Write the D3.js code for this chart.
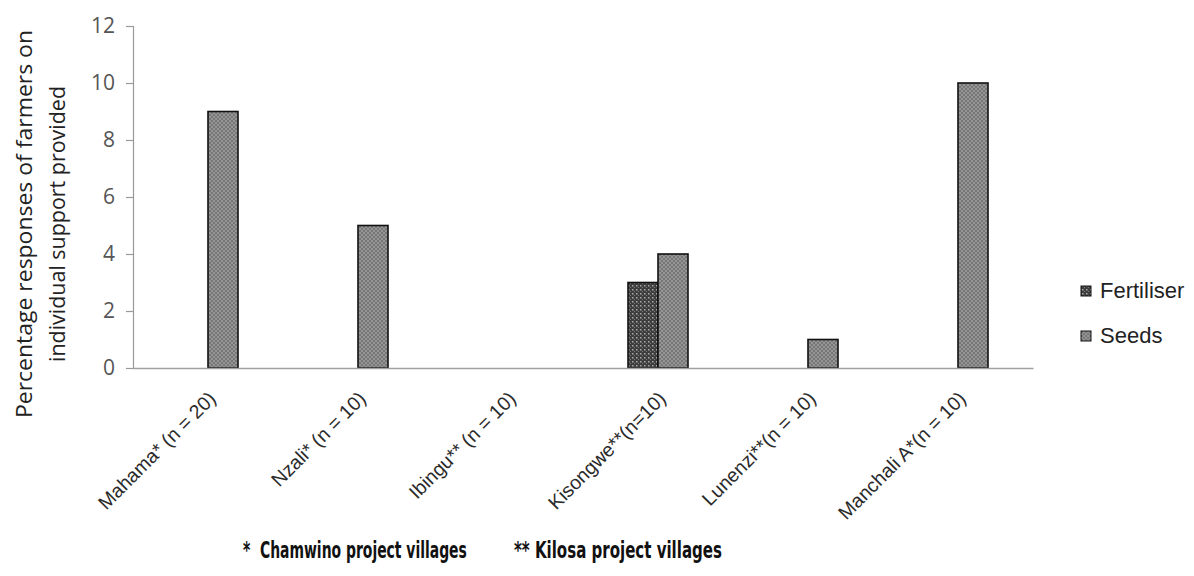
<!DOCTYPE html>
<html>
<head>
<meta charset="utf-8">
<script src="https://cdn.jsdelivr.net/npm/d3@7"></script>
<style>
  html, body { margin: 0; padding: 0; background: #fff; }
  svg { display: block; }
</style>
</head>
<body>
<svg id="chart" width="1194" height="576"></svg>
<script>
// Villages surveyed and share of farmer responses per kind of support
const categories = [
  "Mahama* (n = 20)",
  "Nzali* (n = 10)",
  "Ibingu** (n = 10)",
  "Kisongwe**(n=10)",
  "Lunenzi**(n = 10)",
  "Manchali A*(n = 10)"
];
const seriesNames = ["Fertiliser", "Seeds"];
const fertiliserValues = [0, 0, 0, 3, 0, 0];
const seedsValues = [9, 5, 0, 4, 1, 10];
const yTicks = [0, 2, 4, 6, 8, 10, 12];
const footnotes = ["*  Chamwino project villages", "** Kilosa project villages"];

const svg = d3.select("#chart");
const plot = { left: 133, right: 1033, top: 26, bottom: 368 };

// Hatched fills for the two series
const defs = svg.append("defs");
const pSeeds = defs.append("pattern").attr("id", "pat-seeds")
  .attr("patternUnits", "userSpaceOnUse").attr("width", 4).attr("height", 4);
pSeeds.append("rect").attr("width", 4).attr("height", 4).attr("fill", "#777");
pSeeds.append("rect").attr("width", 2).attr("height", 2).attr("fill", "#959595");
pSeeds.append("rect").attr("x", 2).attr("y", 2).attr("width", 2).attr("height", 2).attr("fill", "#959595");

const pFert = defs.append("pattern").attr("id", "pat-fert")
  .attr("patternUnits", "userSpaceOnUse").attr("width", 4).attr("height", 4);
pFert.append("rect").attr("width", 4).attr("height", 4).attr("fill", "#3e3e3e");
pFert.append("rect").attr("x", 1).attr("y", 1).attr("width", 1.5).attr("height", 1.5).attr("fill", "#a8a8a8");
pFert.append("rect").attr("x", 3).attr("y", 3).attr("width", 1).attr("height", 1).attr("fill", "#7a7a7a");

const fills = { "Fertiliser": "url(#pat-fert)", "Seeds": "url(#pat-seeds)" };

const x0 = d3.scaleBand().domain(categories).range([plot.left, plot.right]).padding(0);
const x1 = d3.scaleBand().domain(seriesNames)
  .range([x0.bandwidth() * 0.3, x0.bandwidth() * 0.7]).padding(0);
const y = d3.scaleLinear().domain([0, 12]).range([plot.bottom, plot.top]);

const rows = categories.map((c, i) => ({
  category: c,
  values: [
    { key: "Fertiliser", value: fertiliserValues[i] },
    { key: "Seeds", value: seedsValues[i] }
  ]
}));

// Y axis
const yAxis = svg.append("g")
  .attr("transform", `translate(${plot.left},0)`)
  .call(d3.axisLeft(y).tickValues(yTicks).tickSize(7).tickPadding(11).tickFormat(d3.format("d")));
yAxis.select(".domain").attr("stroke", "#9a9a9a").attr("stroke-width", 1.2);
yAxis.selectAll(".tick line").attr("stroke", "#9a9a9a").attr("stroke-width", 1.2);
yAxis.selectAll(".tick text")
  .attr("font-family", "'Open Sans', 'Liberation Sans', sans-serif")
  .attr("font-size", 21).attr("fill", "#555");

// Bars
const groups = svg.append("g").selectAll("g").data(rows).join("g")
  .attr("transform", d => `translate(${x0(d.category)},0)`);
groups.selectAll("rect")
  .data(d => d.values.filter(v => v.value > 0))
  .join("rect")
  .attr("x", d => x1(d.key))
  .attr("y", d => y(d.value))
  .attr("width", x1.bandwidth())
  .attr("height", d => y(0) - y(d.value))
  .attr("fill", d => fills[d.key])
  .attr("stroke", "#111")
  .attr("stroke-width", 1.6);

// Baseline (category axis)
const xAxis = svg.append("g")
  .attr("transform", `translate(0,${plot.bottom})`)
  .call(d3.axisBottom(x0).tickSize(0).tickFormat(""));
xAxis.select(".domain").attr("stroke", "#a0a0a0").attr("stroke-width", 1.5);

// Rotated category labels
svg.append("g").selectAll("text").data(categories).join("text")
  .attr("transform", d => `translate(${x0(d) + x0.bandwidth() / 2 + 9},${plot.bottom + 32}) rotate(-45)`)
  .attr("text-anchor", "end")
  .attr("font-family", "'Liberation Sans', Arial, sans-serif")
  .attr("font-size", 19.5)
  .attr("fill", "#2a2a2a")
  .text(d => d);

// Y axis title
const yTitle = svg.append("text")
  .attr("transform", "translate(0,224) rotate(-90)")
  .attr("text-anchor", "middle")
  .attr("font-family", "'Open Sans', 'Liberation Sans', sans-serif")
  .attr("font-size", 21)
  .attr("fill", "#222");
yTitle.append("tspan").attr("x", 0).attr("y", 32)
  .attr("textLength", 388).attr("lengthAdjust", "spacingAndGlyphs")
  .text("Percentage responses of farmers on");
yTitle.append("tspan").attr("x", 0).attr("y", 65)
  .attr("textLength", 276).attr("lengthAdjust", "spacingAndGlyphs")
  .text("individual support provided");

// Legend
const legend = svg.append("g").attr("transform", "translate(1081,284)");
const li = legend.selectAll("g").data(seriesNames).join("g")
  .attr("transform", (d, i) => `translate(0,${i * 45})`);
li.append("rect").attr("width", 10).attr("height", 10).attr("y", 2)
  .attr("fill", d => fills[d]).attr("stroke", "#111").attr("stroke-width", 1);
li.append("text").attr("x", 19).attr("y", 14)
  .attr("font-family", "'Liberation Sans', Arial, sans-serif")
  .attr("font-size", 22).attr("fill", "#222")
  .text(d => d);

// Footnotes about project areas, squeezed horizontally to a condensed look
const footX = [243, 514];
const footW = [224, 208];
svg.append("g").selectAll("text").data(footnotes).join("text")
  .attr("x", 0)
  .attr("y", 0)
  .attr("font-family", "'DejaVu Sans Condensed', 'Liberation Sans', sans-serif")
  .attr("font-weight", "bold")
  .attr("font-size", 23)
  .attr("fill", "#111")
  .style("white-space", "pre")
  .text(d => d)
  .each(function (d, i) {
    const w = this.getComputedTextLength();
    d3.select(this).attr("transform", `translate(${footX[i]},558) scale(${footW[i] / w},1)`);
  });
</script>
</body>
</html>
